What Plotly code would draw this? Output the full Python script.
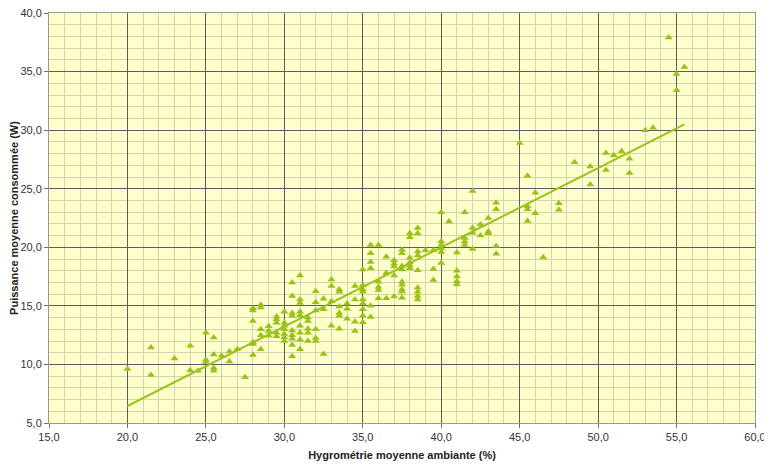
import plotly.graph_objects as go

# Scatter data grouped by humidity value (x) -> list of power values (y)
hum_values = [20.0, 21.5, 23.0, 24.0, 24.5, 25.0, 25.5, 26.0, 26.5, 27.0, 27.5,
              28.0, 28.5, 29.0, 29.5, 30.0, 30.5, 31.0, 31.5, 32.0, 32.5,
              33.0, 33.5, 34.0, 34.5, 35.0, 35.5, 36.0, 36.5, 37.0, 37.5,
              38.0, 38.5, 39.0, 39.5, 40.0, 40.5, 41.0, 41.5, 42.0, 42.5,
              43.0, 43.5, 45.0, 45.5, 46.0, 46.5, 47.5, 48.5, 49.5, 50.5,
              51.0, 51.5, 52.0, 53.0, 53.5, 54.5, 55.0, 55.5]
power_groups = [
    [9.6],
    [11.45, 9.1],
    [10.5],
    [11.6, 9.5],
    [9.45],
    [12.7, 10.4, 10.2],
    [12.3, 10.85, 9.7, 9.45],
    [10.75],
    [11.1, 10.25],
    [11.3],
    [8.9],
    [14.8, 14.6, 13.7, 11.9, 11.75, 10.8],
    [15.1, 14.85, 13.0, 12.5, 11.3],
    [13.25, 12.85, 12.45],
    [14.1, 13.85, 13.55, 12.7, 12.4],
    [14.5, 13.55, 13.3, 13.0, 12.6, 12.3, 12.0],
    [17.0, 15.85, 14.4, 14.15, 12.9, 12.5, 12.2, 11.65, 10.7],
    [17.6, 15.55, 15.25, 14.5, 14.2, 13.3, 12.7, 12.1, 11.3],
    [14.0, 13.7, 13.05, 12.7, 12.0],
    [16.25, 15.3, 14.6, 13.0, 12.25, 12.0],
    [15.6, 14.7, 10.9],
    [17.25, 16.7, 15.4, 13.3],
    [16.4, 16.2, 14.95, 14.4, 14.15, 13.05],
    [15.2, 14.75, 13.9],
    [16.7, 15.55, 13.65, 12.85],
    [18.1, 16.75, 16.4, 16.2, 15.55, 15.2, 14.7, 14.15, 13.6],
    [20.2, 19.5, 18.75, 18.2, 15.0, 14.05],
    [20.2, 17.05, 16.6, 16.35, 15.65],
    [19.2, 17.8, 15.65],
    [18.9, 18.6, 18.35, 17.6, 15.8],
    [19.8, 19.5, 18.4, 18.1, 17.05, 16.8, 16.4, 16.2, 15.7],
    [21.2, 20.85, 19.1, 18.7, 18.45, 18.2],
    [21.65, 21.2, 19.65, 19.3, 18.05, 16.55, 16.2, 15.85, 15.55],
    [19.75],
    [19.75, 18.15, 17.2],
    [23.0, 20.5, 20.2, 19.9, 19.6, 18.65],
    [22.2],
    [19.55, 18.0, 17.5, 17.1, 16.85],
    [23.0, 20.8, 20.5, 20.2],
    [24.8, 21.65, 21.25, 19.85],
    [21.95, 21.0],
    [22.5, 21.35, 21.2],
    [23.8, 23.25, 20.1, 19.45],
    [28.9],
    [26.1, 23.5, 23.25, 22.25],
    [24.65, 22.9],
    [19.15],
    [23.75, 23.2],
    [27.25],
    [26.9, 25.35],
    [28.05, 26.6],
    [27.85],
    [28.2],
    [27.55, 26.35],
    [30.0],
    [30.2],
    [37.9],
    [34.8, 33.4],
    [35.4],
]

# Linear trend line endpoints
trend_x = [20.0, 55.5]
trend_y = [6.45, 30.5]

x_title = "Hygrométrie moyenne ambiante (%)"
y_title = "Puissance moyenne consommée (W)"

xs, ys = [], []
for hx, grp in zip(hum_values, power_groups):
    for p in grp:
        xs.append(hx)
        ys.append(p)

green = "#99C21A"

fig = go.Figure()
fig.add_trace(go.Scatter(
    x=xs, y=ys, mode="markers",
    marker=dict(symbol="triangle-up", size=7, color=green, line=dict(width=0)),
    showlegend=False, hoverinfo="skip"))
fig.add_trace(go.Scatter(
    x=trend_x, y=trend_y, mode="lines",
    line=dict(color=green, width=2),
    showlegend=False, hoverinfo="skip"))

font_family = "Liberation Sans, Arial, sans-serif"
axis_common = dict(
    showgrid=True, gridcolor="#5E5E5E", gridwidth=1,
    showline=True, linecolor="#9A9A8A", linewidth=1, mirror=True,
    ticks="outside", ticklen=4, tickcolor="#6E6E6E",
    tickformat=".1f", zeroline=False, automargin=False,
    ticklabeloverflow="allow",
    tickfont=dict(family=font_family, size=11, color="#333333"),
    minor=dict(tick0=0, dtick=1, showgrid=True, gridcolor="#D3D3B0", gridwidth=1.2),
)

fig.update_layout(
    width=764, height=459,
    margin=dict(l=41, r=17, t=5, b=44),
    paper_bgcolor="white", plot_bgcolor="#FFFFCC",
    separators=", ",
    xaxis=dict(range=[15, 60], dtick=5, tick0=15,
               title=dict(text="<b>" + x_title + "</b>", standoff=9,
                          font=dict(family=font_family, size=11, color="#222222")),
               **axis_common),
    yaxis=dict(range=[5, 40], dtick=5, tick0=5,
               title=dict(text="<b>" + y_title + "</b>", standoff=5,
                          font=dict(family=font_family, size=11, color="#222222")),
               **axis_common),
)

fig.write_html("out.html")
